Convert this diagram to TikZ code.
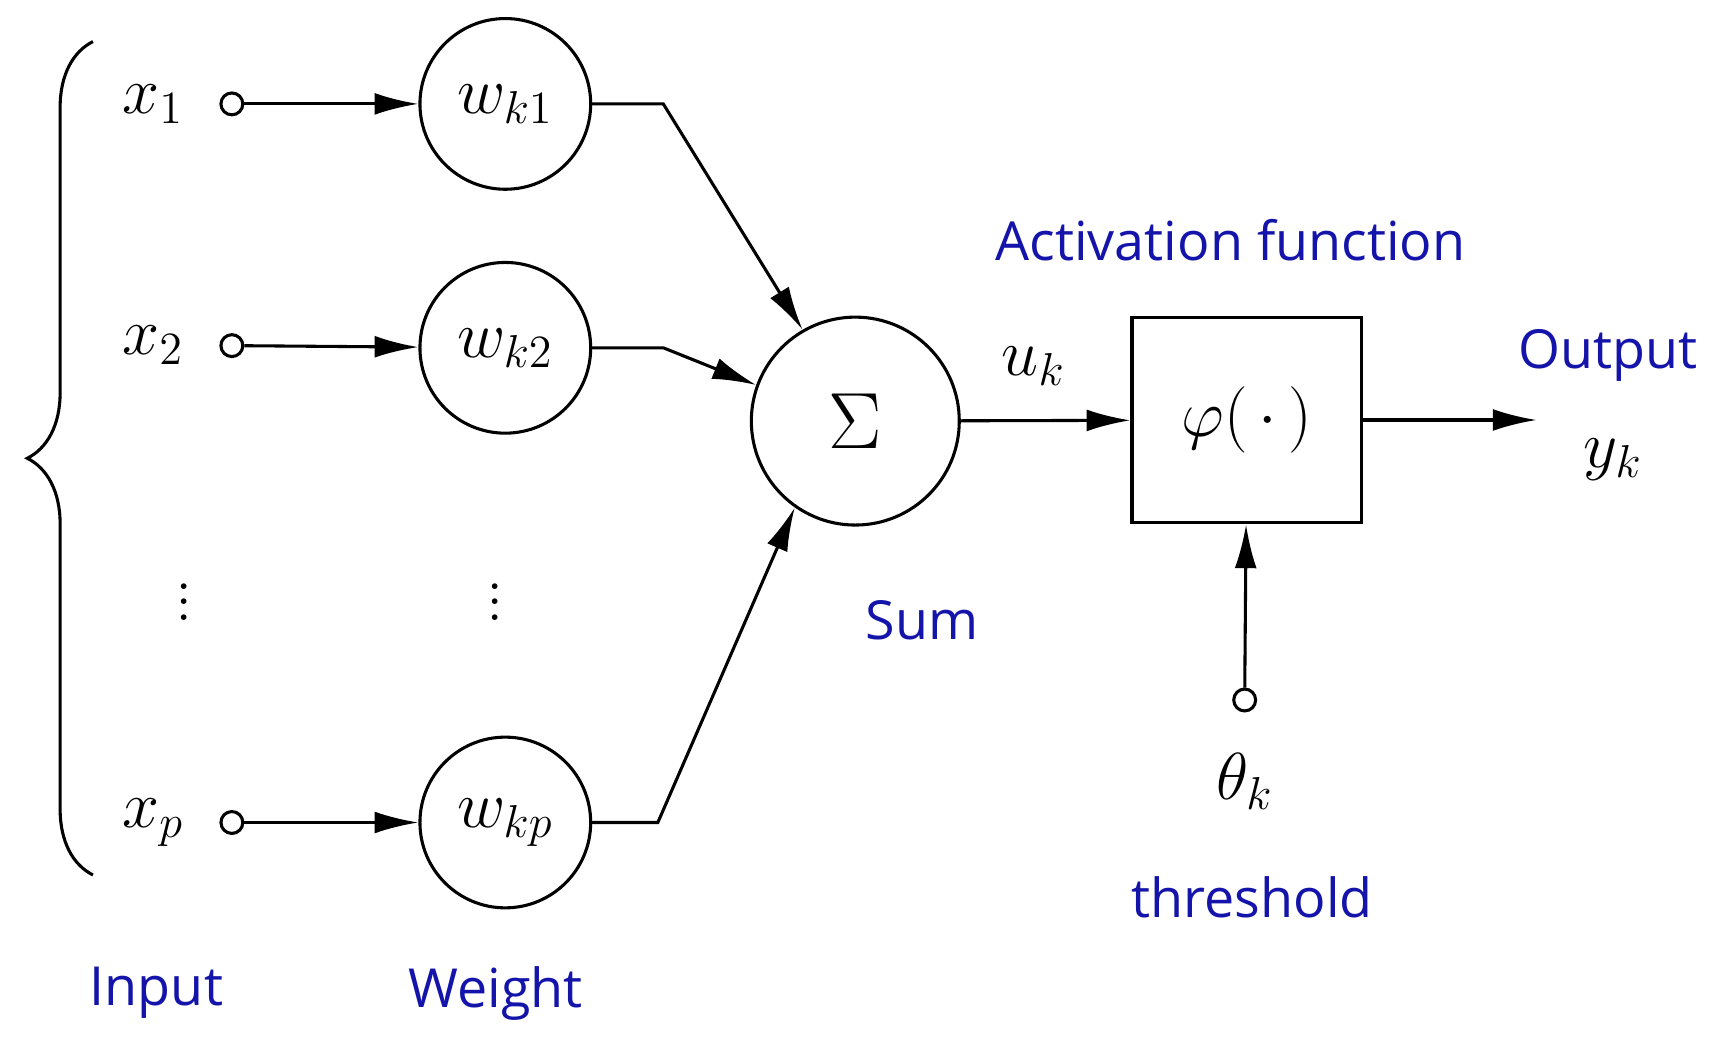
\documentclass[tikz,border=0pt]{standalone}
\usepackage{fontspec}
\newfontfamily\labelfont{Open Sans}
\usetikzlibrary{positioning, calc, arrows.meta, decorations.pathreplacing}
\definecolor{labelblue}{RGB}{20,20,170}
\begin{document}
\begin{tikzpicture}
    [x=0.01cm, y=-0.01cm,
    weightnode/.style={circle, draw=black, thick, minimum size=1.56cm, inner sep=0pt, font=\fontsize{17}{20}\selectfont},
    sumnode/.style={circle, draw=black, thick, minimum size=1.9cm, inner sep=0pt, font=\fontsize{22}{24}\selectfont},
    squarednode/.style={rectangle, draw=black, thick, minimum width=2.1cm, minimum height=1.88cm, font=\fontsize{18}{20}\selectfont},
    inputnode/.style={circle, draw=black, thick, minimum size=0.2cm, inner sep=0pt},
    mathlabel/.style={font=\fontsize{18}{20}\selectfont},
    bluelabel/.style={text=labelblue, font=\labelfont\fontsize{14}{16}\selectfont},
    arrow/.style={thick, -{Latex[length=4mm, width=2mm]}},]

    \useasboundingbox (0,0) rectangle (1568,949);

    %Nodes
    \node[inputnode](in1) at (212,95){};
    \node[inputnode](in2) at (212,316){};
    \node[inputnode](inp) at (212,752){};
    \node[mathlabel](x1)[left=0.2cm of in1]{$x_1$};
    \node[mathlabel](x2)[left=0.2cm of in2]{$x_2$};
    \node[mathlabel](xp)[left=0.2cm of inp]{$x_p$};

    \node[weightnode](w1) at (462,95){$w_{k1}$};
    \node[weightnode](w2) at (462,318){$w_{k2}$};
    \node[weightnode](wp) at (462,752){$w_{kp}$};

    \node[mathlabel](d1) at (168,540){$\vdots$};
    \node[mathlabel](d2) at (453,540){$\vdots$};

    \node[sumnode](sum) at (782,385){$\Sigma$};
    \node[squarednode](phi) at (1140,384){$\varphi(\,\cdot\,)$};
    \node[inputnode](th) at (1138,640){};
    \coordinate(out) at (1405,384);

    \node[mathlabel](uk) at (945,335){$u_k$};
    \node[mathlabel](yk) at (1475,420){$y_k$};
    \node[mathlabel](thk)[below=0.25cm of th]{$\theta_k$};

    \node[bluelabel](act) at (1125,220){Activation function};
    \node[bluelabel](sumlab) at (843,567){Sum};
    \node[bluelabel](outlab) at (1470,325){Output};
    \node[bluelabel](thlab) at (1145,820){threshold};
    \node[bluelabel](inlab) at (143,908){Input};
    \node[bluelabel](wlab) at (453,908){Weight};

    %Lines
    \draw[arrow](in1)--(w1);
    \draw[arrow](in2)--(w2);
    \draw[arrow](inp)--(wp);

    \draw[arrow](w1.east)--++(65,0)--(sum.120);
    \draw[arrow](w2.east)--++(65,0)--(sum.160);
    \draw[arrow](wp.east)--++(60,0)--(sum.235);

    \draw[arrow](sum)--(phi);
    \draw[arrow](phi)--(out);
    \draw[arrow](th)--(phi);

    \draw[thick, decorate, decoration={brace, amplitude=0.6cm}]
        (85,800)--(85,38);
\end{tikzpicture}
\end{document}
